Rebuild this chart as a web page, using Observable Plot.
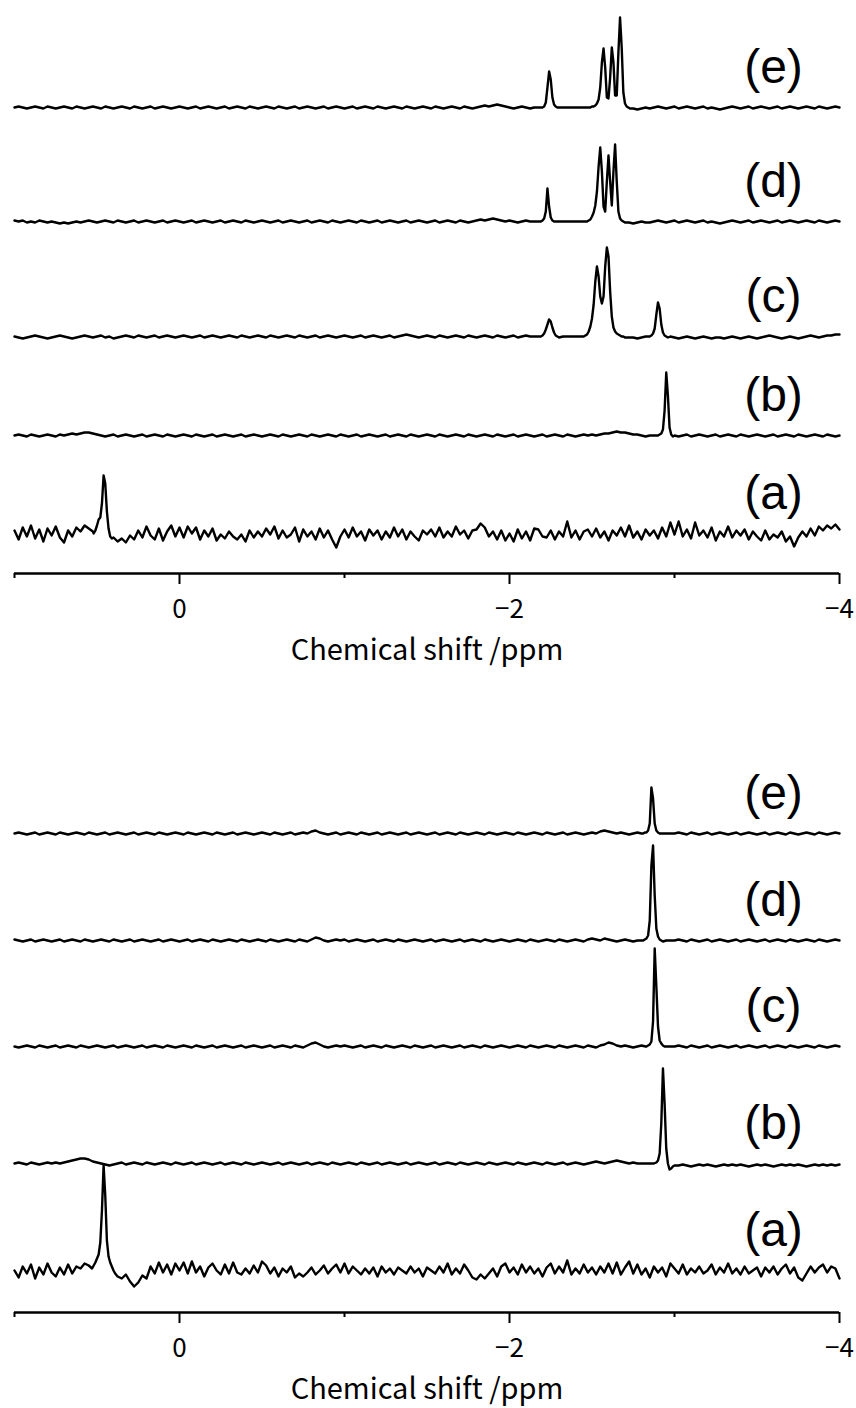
<!DOCTYPE html>
<html><head><meta charset="utf-8">
<script src="https://cdn.jsdelivr.net/npm/d3@7"></script>
<script src="https://cdn.jsdelivr.net/npm/@observablehq/plot@0.6"></script>
<style>body{margin:0;background:#fff} #chart svg{display:block}</style>
</head><body><div id="chart"></div>
<script>
// ---------- labels / ticks ----------
const seriesNames = ["(a)", "(b)", "(c)", "(d)", "(e)"];
const xTicksMajor = [0, -2, -4];
const xTicksMinor = [1, -1, -3];
const xTitle = "Chemical shift /ppm";

// ---------- sampling of the spectra ----------
const ppmStart = 1.0;
const stepCoarse = 0.025;  // baseline grid (ppm)
const stepFine = 0.01;     // grid inside peak segments (ppm)

// ---------- TOP PANEL ----------
const topA = [3,-6,6,-3,8,-5,4,-8,5,-2,7,-4,-9,3,-3,6,2,8,5,2,
  0,0,0,0,0,-8,-5,-9,-2,-6,3,-4,7,-2,-6,5,-7,2,8,-3,
  6,-4,7,0,6,-6,3,-3,5,-7,-1,-5,2,-3,-6,-1,-8,3,-4,2,
  -3,5,-1,7,-5,3,-4,-1,6,-8,4,-3,2,-6,5,-4,3,-6,-14,-3,
  4,-4,6,-3,2,-7,4,-2,3,-6,2,-4,6,-3,4,-6,2,-3,-7,3,
  -1,4,-3,6,-4,2,-3,7,-1,3,-5,3,4,10,6,-3,2,-6,3,-7,
  0,-8,4,-5,2,-7,5,4,-3,-4,3,-6,2,-3,12,-4,3,-6,2,4,
  -3,5,-4,2,-7,3,-2,6,-3,8,-4,2,-6,4,-2,3,-5,6,-3,11,
  -1,12,-3,4,-5,11,-2,3,-4,6,-7,2,-3,7,-4,3,-2,4,-6,2,
  -3,-7,3,-6,-1,-4,2,-8,-3,-13,-4,2,-3,5,-2,7,3,8,5,9,
  4];
const topAPeaks = [{from: 0.52, values: [0,3,8,14,16,30,58,50,22,5,-3,-5,-4]}];

const topB = [0,1,0,-1,1,0,-1,0,1,0,-1,1,0,1,2,1,2,3,3,2,
  1,0,-1,0,1,-1,0,1,0,-1,0,1,-1,0,1,0,-1,1,0,-1,
  0,1,0,-1,1,0,-1,0,1,-1,0,1,0,-1,0,1,-1,0,1,0,
  -1,0,1,0,-1,1,0,-1,0,1,0,-1,1,0,-1,0,1,0,-1,1,
  0,-1,0,1,-1,0,1,0,-1,0,1,-1,0,1,0,-1,1,0,-1,0,
  1,0,-1,1,0,-1,0,1,0,-1,1,0,-1,0,1,0,-1,1,0,-1,
  0,1,-1,0,1,0,-1,0,1,-1,0,1,0,-1,1,0,-1,0,1,0,
  1,0,1,2,2,3,4,3,3,2,1,1,0,-1,0,0,0,0,0,0,
  0,-1,0,1,-1,0,1,0,-1,0,1,-1,0,1,0,-1,1,0,-1,0,
  1,0,-1,0,1,-1,0,1,0,-1,1,0,-1,0,1,0,-1,1,0,-1,
  0];
const topBPeaks = [{from: -2.90, values: [0,1,2,6,25,63,40,8,1,-1,0]}];

const topC = [0,-1,-2,-1,0,1,0,-1,-2,-1,0,1,0,-1,-2,-1,0,1,0,-1,
  0,1,-1,0,-2,-1,0,1,0,-1,1,0,-1,0,1,-1,0,1,0,-1,
  0,1,0,-1,0,1,-1,0,1,0,-1,0,1,0,-1,1,0,-1,0,1,
  0,-1,1,0,-1,0,1,0,-1,1,0,-1,0,1,-1,0,1,0,-1,0,
  1,0,-1,0,1,-1,0,1,0,-1,0,1,-1,0,1,2,1,0,-1,0,
  1,0,-1,1,0,-1,0,1,0,-1,1,0,-1,0,1,0,-1,1,0,-1,
  0,1,-1,0,1,0,0,0,0,0,0,0,0,0,0,0,0,0,0,0,
  0,0,0,0,0,0,0,0,0,-1,-1,-2,-1,0,0,0,0,0,0,0,
  -1,-2,-1,0,-1,-2,-1,0,-1,-2,-1,-1,-2,-1,0,-1,-2,-1,0,-1,
  -2,-1,0,1,0,-1,-2,-1,0,-1,-2,-1,0,1,0,-1,0,1,1,2,
  2];
const topCPeaks = [
  {from: -2.18, values: [0,0,1,3,7,12,17,15,9,4,1,0,-1]},
  {from: -2.45, values: [0,1,2,5,10,18,32,55,70,60,40,33,40,70,89,80,45,20,9,5,3,2,1,0,0,-1]},
  {from: -2.85, values: [0,1,3,8,22,34,28,12,4,1,0,-1]}];

const topD = [1,0,1,-1,0,-1,1,0,-1,0,-1,-2,-1,-2,-1,0,-1,0,1,0,
  -1,0,1,0,-1,1,0,-1,0,1,-1,0,1,0,-1,0,1,-1,0,1,
  0,-1,0,1,-1,0,1,0,-1,0,1,-1,0,1,0,-1,1,0,-1,0,
  1,0,-1,0,1,-1,0,1,0,-1,0,1,-1,0,1,0,-1,1,0,-1,
  0,1,0,-1,1,0,-1,0,1,-1,0,1,0,-1,0,1,-1,0,1,0,
  -1,0,1,-1,0,1,0,-1,1,0,-1,0,1,2,1,2,3,2,1,0,
  1,0,-1,0,1,0,0,0,0,0,0,0,0,0,0,0,0,0,0,0,
  0,0,0,0,0,0,0,0,0,-1,-2,-1,0,-1,-1,0,1,0,-1,0,
  1,-1,0,1,0,-1,0,1,-1,0,-1,-2,-1,0,1,0,-1,0,1,-1,
  0,1,0,-1,0,1,-1,0,1,0,-1,0,1,0,-1,1,0,-1,0,1,
  0];
const topDPeaks = [
  {from: -2.19, values: [0,1,3,10,33,15,4,1,0]},
  {from: -2.47, values: [0,1,2,5,9,16,30,55,74,50,15,10,40,66,40,16,50,77,40,10,3,1,0,-1]}];

const topE = [0,1,0,-1,0,1,0,-1,1,0,-1,0,1,0,-1,1,0,-1,0,1,
  0,-1,1,0,-1,0,1,0,-1,1,0,-1,0,1,-1,0,1,0,-1,0,
  1,0,-1,0,1,-1,0,1,0,-1,0,1,-1,0,1,0,-1,1,0,-1,
  0,1,0,-1,1,0,-1,0,1,-1,0,1,0,-1,0,1,-1,0,1,0,
  -1,0,1,-1,0,1,0,-1,1,0,-1,0,1,0,-1,1,0,-1,0,1,
  0,-1,1,0,-1,0,1,0,-1,1,0,-1,0,1,2,1,2,3,2,1,
  0,-1,0,1,0,-1,0,0,0,0,0,0,0,0,0,0,0,0,0,0,
  0,0,0,0,0,0,0,0,0,0,-1,-2,-1,0,-1,0,1,0,-1,0,
  1,-1,0,1,0,-1,0,1,-1,0,-1,-2,-1,0,1,0,-1,0,1,-1,
  0,1,0,-1,0,1,-1,0,1,0,-1,0,1,0,-1,1,0,-1,0,1,
  0];
const topEPeaks = [
  {from: -2.20, values: [0,1,5,20,36,28,10,3,1,0]},
  {from: -2.49, values: [0,1,1,2,4,8,20,45,59,40,10,9,30,60,45,12,12,55,90,60,15,4,1,0,-1]}];

const topOffsets = [40, 138, 237, 352, 466];   // baseline level of (a)..(e)

// ---------- BOTTOM PANEL ----------
const botA = [0,-7,4,-3,6,-8,3,-4,7,-2,-6,3,-4,6,-3,4,2,7,5,0,
  0,0,0,0,0,-6,-8,-4,-11,-16,-12,-5,-8,4,-3,8,-2,6,-4,7,
  0,8,-3,9,-2,4,-6,3,7,0,-4,6,-3,8,-2,-4,2,-3,5,-2,
  9,5,-3,3,-6,2,-2,4,-7,-3,-6,-2,3,-4,0,5,-3,2,6,-2,
  7,-3,4,0,-4,2,-3,3,-6,4,-2,2,-4,3,0,-3,4,-2,2,-6,
  3,0,-3,4,-2,7,-4,2,-3,6,0,-7,-9,-4,-8,-3,2,-6,4,7,
  -2,3,-4,6,-2,4,-3,2,-6,3,7,-3,4,-2,10,-4,2,-3,6,-2,
  3,-4,4,-2,7,-3,8,-4,3,9,-3,6,-4,2,-7,4,-2,3,-6,7,
  2,-3,6,-4,2,-2,4,-3,0,6,-4,3,-2,7,-3,2,-4,4,-3,0,
  3,-6,3,-2,4,-4,2,6,-3,3,-7,-10,-3,4,-2,3,6,-2,4,2,
  -8];
const botAPeaks = [{from: 0.53, values: [2,5,8,12,16,28,60,105,75,30,14,8,4,0,-3]}];

const botB = [0,1,0,-1,1,0,-1,0,1,0,1,0,1,2,3,4,5,5,4,2,
  1,0,-1,-2,-1,0,1,-1,0,1,0,-1,1,0,-1,0,1,0,-1,1,
  0,-1,0,1,-1,0,1,0,-1,0,1,-1,0,1,0,-1,1,0,-1,0,
  1,0,-1,0,1,-1,0,1,0,-1,0,1,-1,0,1,0,-1,1,0,-1,
  0,1,0,-1,1,0,-1,0,1,-1,0,1,0,-1,0,1,-1,0,1,0,
  -1,0,1,-1,0,1,0,-1,1,0,-1,0,1,0,-1,1,0,-1,0,1,
  0,-1,1,0,-1,0,1,0,-1,1,0,-1,0,1,-1,0,1,0,-1,0,
  1,2,1,0,1,2,3,2,1,0,1,0,0,0,0,0,0,0,0,0,
  0,-2,-1,-2,-3,-2,-1,-2,-1,-2,-3,-2,-1,-2,-1,-2,-1,-2,-3,-2,
  -1,-2,-1,-2,-3,-2,-1,-2,-1,-2,-1,-2,-3,-2,-1,-2,-1,-2,-1,-2,
  -1];
const botBPeaks = [{from: -2.89, values: [1,3,10,40,95,60,15,0,-6,-5,-3,-2,-2,-2]}];

const botC = [0,-1,0,1,0,-1,1,0,-1,0,1,-1,0,1,0,-1,1,0,-1,0,
  1,0,-1,0,1,-1,0,1,0,-1,0,1,-1,0,1,0,-1,1,0,-1,
  0,1,0,-1,1,0,-1,0,1,-1,0,1,0,-1,0,1,-1,0,1,0,
  -1,0,1,-1,0,1,0,-1,1,0,-1,1,3,4,2,0,-1,0,1,0,
  1,0,-1,0,1,-1,0,1,0,-1,1,0,-1,0,1,0,-1,1,0,-1,
  0,1,-1,0,1,0,-1,0,1,-1,0,1,0,-1,1,0,-1,0,1,0,
  -1,0,1,0,-1,1,0,-1,0,1,0,-1,1,0,-1,0,1,0,-1,1,
  0,-1,1,2,4,3,1,0,1,0,-1,0,1,0,0,0,0,0,0,0,
  0,1,0,-1,1,0,-1,0,1,-1,0,1,0,-1,0,1,-1,0,1,0,
  -1,0,1,-1,0,1,0,-1,1,0,-1,0,1,0,-1,1,0,-1,0,1,
  0];
const botCPeaks = [{from: -2.83, values: [0,1,2,5,25,98,60,20,6,3,1,0,0]}];

const botD = [1,0,-1,0,1,-1,0,1,0,-1,0,1,-1,0,1,0,-1,1,0,-1,
  0,1,0,-1,1,0,-1,0,1,-1,0,1,0,-1,0,1,-1,0,1,0,
  -1,0,1,-1,0,1,0,-1,1,0,-1,0,1,0,-1,1,0,-1,0,1,
  0,-1,1,0,-1,0,1,0,-1,1,0,-1,1,3,2,0,-1,0,1,0,
  1,-1,0,1,0,-1,0,1,-1,0,1,0,-1,1,0,-1,0,1,0,-1,
  0,1,-1,0,1,0,-1,0,1,-1,0,1,0,-1,1,0,-1,0,1,0,
  -1,0,1,0,-1,1,0,-1,0,1,0,-1,1,0,-1,0,1,0,-1,1,
  2,1,0,2,1,0,-1,0,1,0,-1,0,0,0,0,0,0,0,0,0,
  0,1,0,-1,1,0,-1,0,1,-1,0,1,0,-1,0,1,-1,0,1,0,
  -1,0,1,-1,0,1,0,-1,1,0,-1,0,1,0,-1,1,0,-1,0,1,
  0];
const botDPeaks = [{from: -2.81, values: [0,1,2,5,20,75,95,45,12,4,1,0,-1]}];

const botE = [0,1,0,-1,0,1,-1,0,1,0,-1,1,0,-1,0,1,0,-1,1,0,
  -1,0,1,-1,0,1,0,-1,0,1,-1,0,1,0,-1,1,0,-1,0,1,
  0,-1,1,0,-1,0,1,0,-1,1,0,-1,0,1,-1,0,1,0,-1,0,
  1,0,-1,1,0,-1,0,1,-1,0,1,0,2,3,1,0,-1,0,1,-1,
  0,1,0,-1,1,0,-1,0,1,-1,0,1,0,-1,0,1,-1,0,1,0,
  -1,0,1,-1,0,1,0,-1,1,0,-1,0,1,0,-1,1,0,-1,0,1,
  0,-1,1,0,-1,0,1,0,-1,1,0,-1,0,1,-1,0,1,0,-1,0,
  1,0,2,3,2,1,0,1,0,-1,0,1,0,0,0,0,0,0,0,0,
  0,1,0,-1,1,0,-1,0,1,-1,0,1,0,-1,0,1,-1,0,1,0,
  -1,0,1,-1,0,1,0,-1,1,0,-1,0,1,0,-1,1,0,-1,0,1,
  0];
const botEPeaks = [{from: -2.81, values: [0,1,1,3,10,46,35,10,3,1,0,0,0]}];

const botOffsets = [42, 149, 266, 372, 479];

// ---------- build ----------
function build(base, segs) {
  const ranges = segs.map(s => [s.from - stepFine * (s.values.length - 1), s.from]);
  const pts = [];
  base.forEach((v, i) => {
    const p = ppmStart - stepCoarse * i;
    if (!ranges.some(([lo, hi]) => p >= lo - 1e-9 && p <= hi + 1e-9)) pts.push({ppm: p, v});
  });
  segs.forEach(s => s.values.forEach((v, j) => pts.push({ppm: s.from - stepFine * j, v})));
  pts.sort((a, b) => b.ppm - a.ppm);
  return pts;
}
function rows(list, offsets) {
  return list.flatMap(([name, base, segs], k) =>
    build(base, segs).map(d => ({series: name, ppm: d.ppm, y: d.v + offsets[k]})));
}
const topRows = rows([
  ["(a)", topA, topAPeaks], ["(b)", topB, topBPeaks], ["(c)", topC, topCPeaks],
  ["(d)", topD, topDPeaks], ["(e)", topE, topEPeaks]], topOffsets);
const botRows = rows([
  ["(a)", botA, botAPeaks], ["(b)", botB, botBPeaks], ["(c)", botC, botCPeaks],
  ["(d)", botD, botDPeaks], ["(e)", botE, botEPeaks]], botOffsets);

const axisFont = "'Noto Sans CJK JP', 'Noto Sans', sans-serif";
const labelFont = "'Liberation Sans', Arial, sans-serif";
const fmt = d => d === 0 ? "0" : (d < 0 ? "\u2212" : "") + Math.abs(d);

function panel(data, offsets, height, marginBottom, yMax) {
  return Plot.plot({
    width: 856, height,
    marginLeft: 14, marginRight: 17, marginTop: 0, marginBottom,
    x: {domain: [1, -4], axis: null},
    y: {domain: [0, yMax], axis: null},
    style: {background: "white", color: "black", overflow: "visible"},
    marks: [
      Plot.ruleY([0], {stroke: "black", strokeWidth: 2.5}),
      Plot.axisX({ticks: xTicksMajor, tickSize: 11, strokeWidth: 2,
                  tickFormat: () => "", label: null, anchor: "bottom"}),
      Plot.axisX({ticks: xTicksMinor, tickSize: 5, strokeWidth: 2,
                  tickFormat: () => "", label: null, anchor: "bottom"}),
      Plot.text(xTicksMajor, {x: d => d, frameAnchor: "bottom", dy: 36, text: fmt,
                  fontSize: 26, fontFamily: axisFont, lineAnchor: "middle", fill: "black"}),
      Plot.text([xTitle], {frameAnchor: "bottom", dy: 77, fontSize: 29,
                  fontFamily: axisFont, lineAnchor: "middle", fill: "black"}),
      Plot.line(data, {x: "ppm", y: "y", z: "series", stroke: "black",
                  strokeWidth: 2.4, curve: "linear", strokeLinejoin: "round"}),
      Plot.text(seriesNames, {x: () => -3.6, y: (d, i) => offsets[i] + 40, text: d => d,
                  fontSize: 48, fontFamily: labelFont, fill: "black", lineAnchor: "middle"})
    ]
  });
}

const root = document.getElementById("chart");
root.append(panel(topRows, topOffsets, 680, 107, 573));
root.append(panel(botRows, botOffsets, 728, 96, 632));
</script>
</body></html>
